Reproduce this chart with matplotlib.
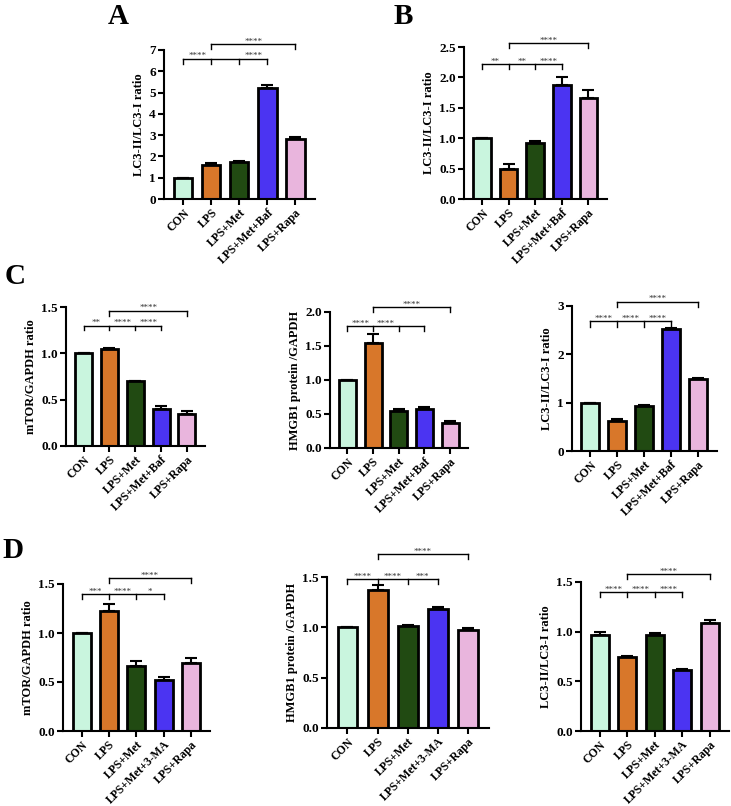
import numpy as np
import matplotlib
matplotlib.use("Agg")
import matplotlib.pyplot as plt
from matplotlib.ticker import FormatStrFormatter

plt.rcParams['font.family'] = 'serif'
plt.rcParams['font.serif'] = ['Liberation Serif', 'DejaVu Serif']
plt.rcParams['font.weight'] = 'bold'
plt.rcParams['axes.labelweight'] = 'bold'

# groups
groups_baf = ['CON', 'LPS', 'LPS+Met', 'LPS+Met+Baf', 'LPS+Rapa']
groups_3ma = ['CON', 'LPS', 'LPS+Met', 'LPS+Met+3-MA', 'LPS+Rapa']
colors = ['#c9f5de', '#d8772a', '#214a12', '#4b34f2', '#e9b5dd']

# panel A
a_vals = [1.0, 1.61, 1.72, 5.2, 2.82]
a_err = [0.0, 0.08, 0.08, 0.15, 0.1]
# panel B
b_vals = [1.0, 0.49, 0.92, 1.87, 1.66]
b_err = [0.0, 0.08, 0.04, 0.14, 0.13]
# panel C
c1_vals = [1.0, 1.05, 0.70, 0.40, 0.35]
c1_err = [0.0, 0.01, 0.0, 0.03, 0.025]
c2_vals = [1.0, 1.55, 0.54, 0.57, 0.37]
c2_err = [0.0, 0.12, 0.03, 0.03, 0.03]
c3_vals = [1.0, 0.62, 0.93, 2.52, 1.49]
c3_err = [0.0, 0.04, 0.03, 0.03, 0.03]
# panel D
d1_vals = [1.0, 1.22, 0.66, 0.52, 0.69]
d1_err = [0.0, 0.08, 0.05, 0.03, 0.05]
d2_vals = [1.0, 1.37, 1.01, 1.18, 0.97]
d2_err = [0.0, 0.05, 0.01, 0.025, 0.025]
d3_vals = [0.97, 0.74, 0.97, 0.61, 1.09]
d3_err = [0.03, 0.02, 0.02, 0.015, 0.025]

# brackets: (height, positions, labels between them)
a_br = [(6.6, [0, 1, 2, 3], ['****', '', '****']), (7.3, [1, 4], ['****'])]
b_br = [(2.22, [0, 1, 2, 3], ['**', '**', '****']), (2.57, [1, 4], ['****'])]
c1_br = [(1.30, [0, 1, 2, 3], ['**', '****', '****']), (1.46, [1, 4], ['****'])]
c2_br = [(1.79, [0, 1, 2, 3], ['****', '****', '']), (2.07, [1, 4], ['****'])]
c3_br = [(2.68, [0, 1, 2, 3], ['****', '****', '****']), (3.09, [1, 4], ['****'])]
d1_br = [(1.40, [0, 1, 2, 3], ['***', '****', '*']), (1.56, [1, 4], ['****'])]
d2_br = [(1.48, [0, 1, 2, 3], ['****', '****', '***']), (1.73, [1, 4], ['****'])]
d3_br = [(1.40, [0, 1, 2, 3], ['****', '****', '****']), (1.58, [1, 4], ['****'])]

W, H = 731, 806
fig = plt.figure(figsize=(W / 100, H / 100), dpi=100)


def box(x0, x1, y0, y1):
    return [x0 / W, 1 - y1 / H, (x1 - x0) / W, (y1 - y0) / H]


def panel(rect, names, vals, err, ymax, step, fmt, ylabel, brackets):
    ax = fig.add_axes(rect)
    x = np.arange(len(vals))
    ax.bar(x, vals, width=0.66, color=colors, edgecolor='black', linewidth=2, zorder=2)
    ax.errorbar(x, vals, yerr=[np.zeros(len(err)), err], fmt='none', ecolor='black',
                elinewidth=1.5, capsize=4, capthick=1.5, zorder=1)
    ax.set_xlim(-0.68, len(vals) - 0.3)
    ax.set_ylim(0, ymax)
    ax.set_yticks(np.arange(0, ymax + 1e-9, step))
    ax.yaxis.set_major_formatter(FormatStrFormatter(fmt))
    ax.set_xticks(x)
    ax.set_xticklabels(names, rotation=45, ha='right', rotation_mode='anchor', fontsize=8.5)
    ax.tick_params(axis='y', labelsize=9.5, width=1.5, length=4, pad=2)
    ax.tick_params(axis='x', width=1.5, length=4, pad=1.5)
    for lab in ax.get_yticklabels():
        lab.set_fontweight('bold')
    ax.set_ylabel(ylabel, fontsize=9, labelpad=3)
    for s in ['top', 'right']:
        ax.spines[s].set_visible(False)
    for s in ['left', 'bottom']:
        ax.spines[s].set_linewidth(1.5)
    drop = ymax * 0.035
    for h, pos, labs in brackets:
        ax.plot([pos[0], pos[-1]], [h, h], color='black', lw=1, clip_on=False)
        for p in pos:
            ax.plot([p, p], [h, h - drop], color='black', lw=1, clip_on=False)
        for i, lab in enumerate(labs):
            if lab:
                ax.text((pos[i] + pos[i + 1]) / 2, h - ymax * 0.012, lab, ha='center',
                        va='bottom', fontsize=6.5, fontweight='normal', color='#333333')
    return ax


panel(box(164, 315, 50, 199), groups_baf, a_vals, a_err, 7, 1, '%d', 'LC3-II/LC3-I ratio', a_br)
panel(box(464, 607, 47, 199), groups_baf, b_vals, b_err, 2.5, 0.5, '%.1f', 'LC3-II/LC3-I ratio', b_br)
panel(box(66, 205, 307, 446), groups_baf, c1_vals, c1_err, 1.5, 0.5, '%.1f', 'mTOR/GAPDH ratio', c1_br)
panel(box(330, 468, 312, 448), groups_baf, c2_vals, c2_err, 2.0, 0.5, '%.1f', 'HMGB1 protein /GAPDH', c2_br)
panel(box(572, 717, 306, 451), groups_baf, c3_vals, c3_err, 3, 1, '%d', 'LC3-II/LC3-I ratio', c3_br)
panel(box(63, 210, 584, 731), groups_3ma, d1_vals, d1_err, 1.5, 0.5, '%.1f', 'mTOR/GAPDH ratio', d1_br)
panel(box(327, 489, 577, 728), groups_3ma, d2_vals, d2_err, 1.5, 0.5, '%.1f', 'HMGB1 protein /GAPDH', d2_br)
panel(box(581, 729, 582, 731), groups_3ma, d3_vals, d3_err, 1.5, 0.5, '%.1f', 'LC3-II/LC3-I ratio', d3_br)

for letter, px, py in [('A', 118, 17), ('B', 403, 17), ('C', 15, 277), ('D', 13, 551)]:
    fig.text(px / W, 1 - py / H, letter, ha='center', va='center', fontsize=21, fontweight='bold')

fig.savefig('out.png', dpi=100)
